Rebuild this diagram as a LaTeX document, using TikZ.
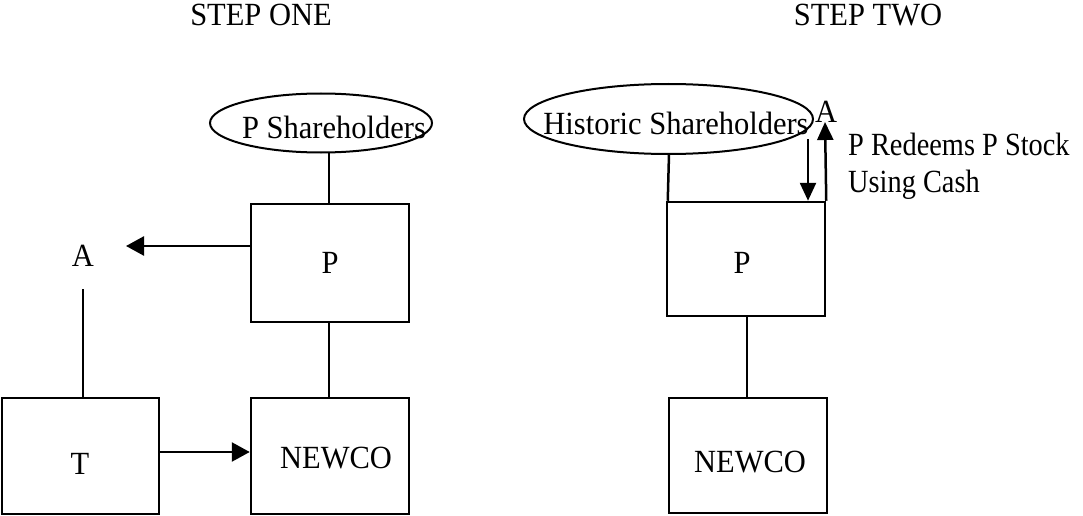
\documentclass[tikz,border=0pt]{standalone}
\usepackage{fontspec}
\setmainfont{Liberation Serif}
\usetikzlibrary{arrows.meta,shapes.geometric,calc}
\begin{document}
\begin{tikzpicture}[x=1pt,y=-1pt,
  txt/.style={font=\fontsize{30.5}{36}\selectfont, inner sep=0pt, anchor=base, yscale=1.06},
  boxnode/.style={draw, line width=2.5pt, rectangle, inner sep=0pt},
  ell/.style={draw, line width=2pt, ellipse, inner sep=0pt},
  ln/.style={line width=2.5pt},
  arr/.style={line width=2.5pt, -{Triangle[length=18pt,width=19pt]}},
  sarr/.style={line width=2.5pt, -{Triangle[length=18pt,width=16pt]}}]
\useasboundingbox (0,0) rectangle (1083,516);
\fill[white] (0,0) rectangle (1083,516);

% titles
\node[txt] (s1) at (261,26) {STEP ONE};
\node[txt] (s2) at (868,26) {STEP TWO};

% step one
\node[ell, minimum width=222pt, minimum height=59pt] (e1) at (321,123) {};
\node[txt] (e1t) at (334,139) {P Shareholders};
\node[boxnode, minimum width=158pt, minimum height=118pt] (p1) at (330,263) {};
\node[txt] (p1t) at (330,273) {P};
\node[boxnode, minimum width=158pt, minimum height=116pt] (n1) at (330,456) {};
\node[txt] (n1t) at (336,468) {NEWCO};
\node[boxnode, minimum width=157pt, minimum height=116pt] (t1) at (80.5,456) {};
\node[txt] (t1t) at (80,474) {T};
\node[txt] (a1) at (83,266) {A};
\coordinate (a1end) at (126,246);
\coordinate (a1low) at (83,289);

\draw[ln] (p1.north -| 329,0) -- (329,152);
\draw[ln] (p1.south -| 329,0) -- (n1.north -| 329,0);
\draw[arr] (p1.west |- a1end) -- (a1end);
\draw[ln] (a1low) -- (a1low |- t1.north);
\draw[arr] (t1.east |- 0,452) -- (n1.west |- 0,452);

% step two
\node[ell, minimum width=289pt, minimum height=70pt] (e2) at (668.5,119) {};
\node[txt] (e2t) at (676,135) {Historic Shareholders};
\node[boxnode, minimum width=158pt, minimum height=114pt] (p2) at (746,259) {};
\node[txt] (p2t) at (742,273) {P};
\node[boxnode, minimum width=158pt, minimum height=115pt] (n2) at (748,455.5) {};
\node[txt] (n2t) at (750,472) {NEWCO};
\node[txt] (a2) at (826,122) {A};
\coordinate (uptip) at (825,122);
\coordinate (dstart) at (808,139);

\draw[ln] ($(p2.north west)+(2,0)$) -- (669,154);
\draw[ln] (p2.south -| 747,0) -- (n2.north -| 747,0);
\draw[sarr] (dstart) -- (dstart |- p2.north);
\draw[sarr] (p2.north east) -- (uptip);

\node[txt, anchor=base west, xscale=0.93] (r1) at (848,155) {P Redeems P Stock};
\node[txt, anchor=base west, xscale=0.93] (r2) at (848,192) {Using Cash};
\end{tikzpicture}
\end{document}
